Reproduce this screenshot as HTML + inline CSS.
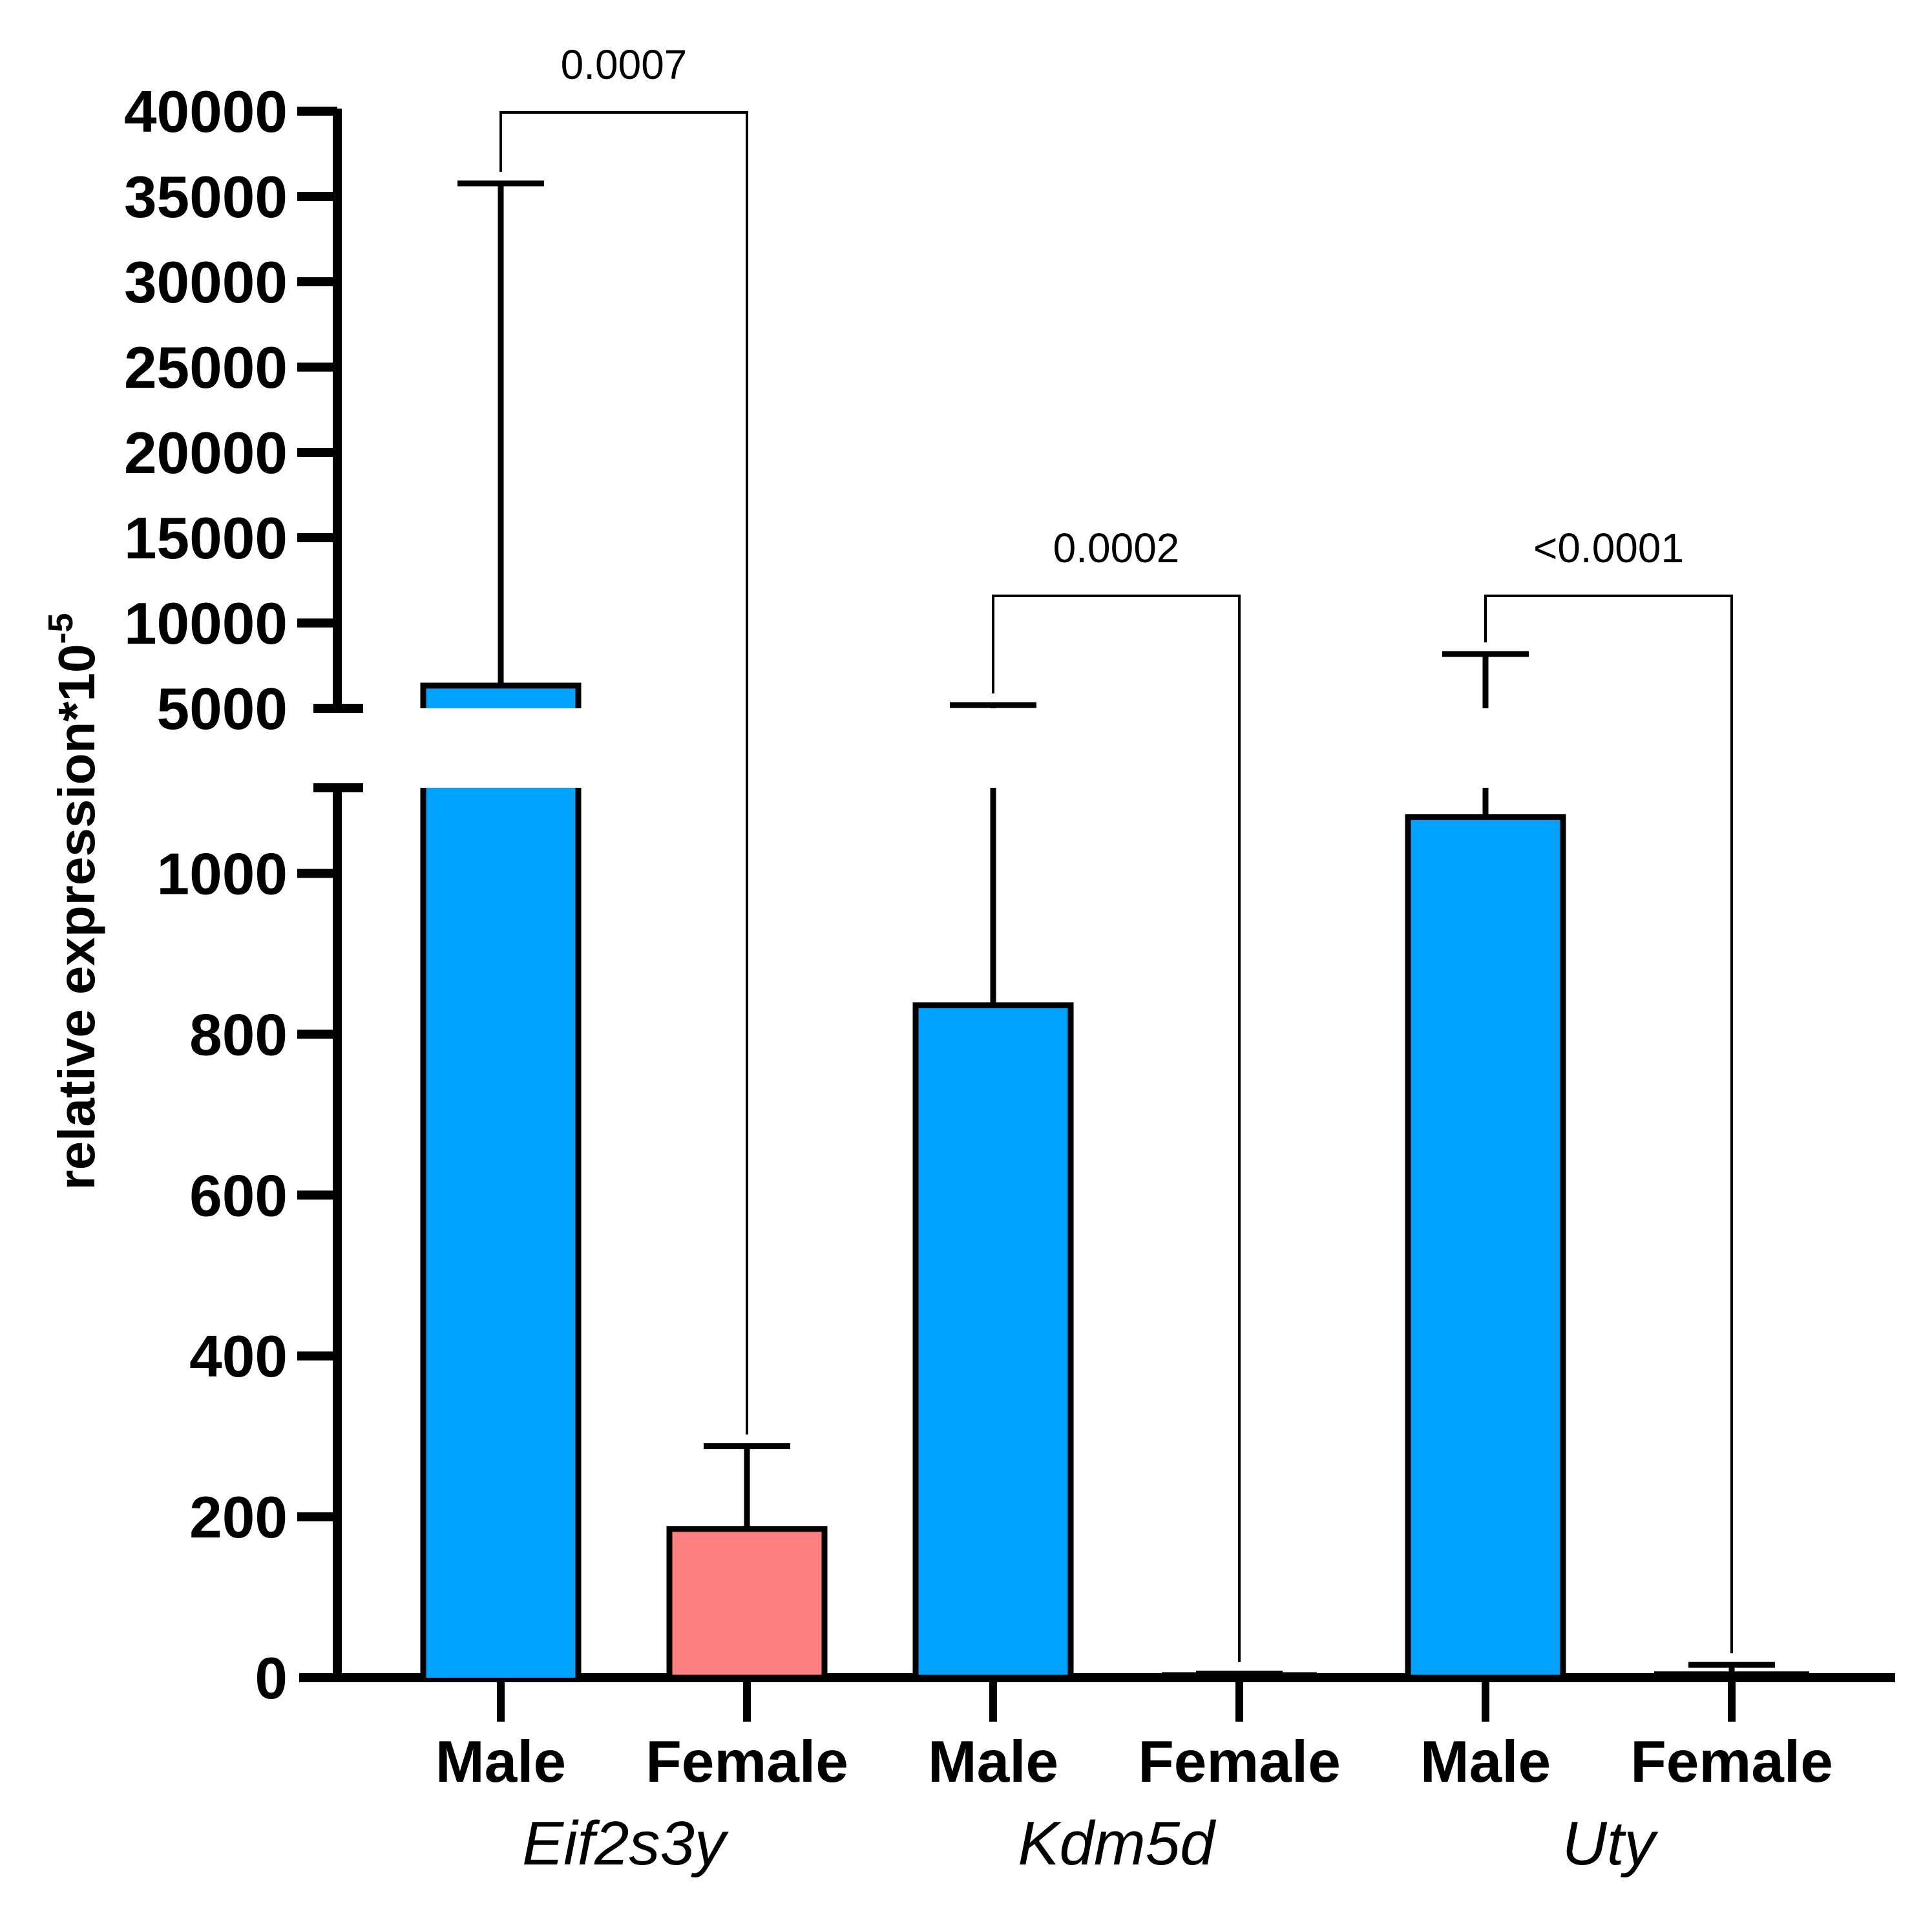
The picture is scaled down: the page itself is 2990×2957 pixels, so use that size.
<!DOCTYPE html>
<html><head><meta charset="utf-8"><style>
html,body{margin:0;padding:0;background:#fff;}
svg{display:block;}
text{font-family:"Liberation Sans",sans-serif;}
</style></head><body>
<svg id="chart" width="2990" height="2957" viewBox="0 0 2990 2957" xmlns="http://www.w3.org/2000/svg">
<g id="axes"></g>
<g id="bars"></g>
<g id="brackets"></g>
<text transform="translate(146,1395) rotate(-90)" text-anchor="middle" font-size="80" font-weight="bold">relative expression*10<tspan dy="-34" font-size="54">-5</tspan></text>
</svg>
<script>
const categories = ["Male","Female","Male","Female","Male","Female"];
const genes = ["Eif2s3y","Kdm5d","Uty"];
const means = [6330, 185, 836, 2, 1070, 3];
const errTops = [35760, 288, 5190, 5, 8180, 16];
const upperTicks = [5000,10000,15000,20000,25000,30000,35000,40000];
const lowerTicks = [0,200,400,600,800,1000];
const pLabels = ["0.0007","0.0002","<0.0001"];
const pairs = [[0,1],[2,3],[4,5]];

const NS="http://www.w3.org/2000/svg";
const BASE=2596, LPX=1.2445, LMAX=1106, LTOP=1219, UBOT=1096, UPX=0.0264;
const AX=522;
function yL(v){return BASE - v*LPX;}
function yU(v){return UBOT - (v-5000)*UPX;}
function xC(i){return 775 + i*381;}
function el(tag,attrs,parent){const e=document.createElementNS(NS,tag);for(const k in attrs)e.setAttribute(k,attrs[k]);parent.appendChild(e);return e;}
const axes=document.getElementById('axes'), bars=document.getElementById('bars'), br=document.getElementById('brackets');

let a1=el('line',{x1:AX,y1:yU(40000)-4,x2:AX,y2:UBOT,stroke:'#000','stroke-width':14},axes);


let a2=el('line',{x1:AX,y1:LTOP,x2:AX,y2:BASE,stroke:'#000','stroke-width':14},axes);


let bk=el('line',{x1:485,y1:LTOP,x2:562,y2:LTOP,stroke:'#000','stroke-width':14},axes);


upperTicks.forEach(v=>{
  const y=yU(v);
  const t=el('line',{x1:v===5000?485:460,y1:y,x2:v===5000?562:AX,y2:y,stroke:'#000','stroke-width':14},axes);
  
  
  const l=el('text',{x:445,y:y+32,'text-anchor':'end','font-size':91,'font-weight':'bold'},axes);
  l.textContent=v;
  
  
});
lowerTicks.forEach(v=>{
  const y=yL(v);
  if(v>0){const t=el('line',{x1:460,y1:y,x2:AX,y2:y,stroke:'#000','stroke-width':14},axes);
  
  }
  const l=el('text',{x:445,y:y+32,'text-anchor':'end','font-size':91,'font-weight':'bold'},axes);
  l.textContent=v;
  
  
});
let xa=el('line',{x1:463,y1:BASE,x2:2933,y2:BASE,stroke:'#000','stroke-width':14},axes);


categories.forEach((c,i)=>{
  const t=el('line',{x1:xC(i),y1:BASE,x2:xC(i),y2:2664,stroke:'#000','stroke-width':12},axes);
  
  
  const l=el('text',{x:xC(i),y:2757,'text-anchor':'middle','font-size':91,'font-weight':'bold'},axes);
  l.textContent=c;
  
  
});
genes.forEach((g,k)=>{
  const l=el('text',{x:(xC(2*k)+xC(2*k+1))/2,y:2885,'text-anchor':'middle','font-size':96,'font-style':'italic'},axes);
  l.textContent=g;
  
  
});

const HW=120;
means.forEach((v,i)=>{
  const x=xC(i), fill=(i===1)?'#FF8080':'#00A2FF';
  if(v<10){
    const b=el('line',{x1:x-HW,y1:yL(v)-4,x2:x+HW,y2:yL(v)-4,stroke:'#000','stroke-width':4},bars);
    
    
  } else if(v<=LMAX){
    const b=el('rect',{x:x-HW,y:yL(v),width:2*HW,height:BASE-yL(v),fill:fill,stroke:'#000','stroke-width':9},bars);
    
    
  } else {
    const b1=el('rect',{x:x-HW,y:LTOP,width:2*HW,height:BASE-LTOP,fill:fill},bars);
    
    
    el('path',{d:`M${x-HW},${LTOP}V${BASE}M${x+HW},${LTOP}V${BASE}`,stroke:'#000','stroke-width':9,fill:'none'},bars);
    const b2=el('rect',{x:x-HW,y:yU(v),width:2*HW,height:UBOT-yU(v),fill:fill},bars);
    
    
    el('path',{d:`M${x-HW},${UBOT}V${yU(v)}H${x+HW}V${UBOT}`,stroke:'#000','stroke-width':9,fill:'none'},bars);
  }
  const e=errTops[i];
  const top = e>LMAX? yU(e) : yL(e);
  const barTop = v>LMAX? yU(v) : yL(v);
  let d='';
  if(e>LMAX){
    if(v<=LMAX) d+=`M${x},${barTop}V${LTOP}`;
    d+=`M${x},${v>LMAX?barTop:UBOT}V${top}`;
  } else d+=`M${x},${barTop}V${top}`;
  const eb=el('path',{d:d+`M${x-67},${top}H${x+67}`,stroke:'#000','stroke-width':9,fill:'none'},bars);
  
  
});

const brTopY=[174,922,922];
pairs.forEach((p,k)=>{
  const xa=xC(p[0]), xb=xC(p[1]);
  const ya=(errTops[p[0]]>LMAX?yU(errTops[p[0]]):yL(errTops[p[0]]))-18;
  const yb=(errTops[p[1]]>LMAX?yU(errTops[p[1]]):yL(errTops[p[1]]))-18;
  const b=el('path',{d:`M${xa},${ya}V${brTopY[k]}H${xb}V${yb}`,stroke:'#000','stroke-width':4,fill:'none'},br);
  
  
  const t=el('text',{x:(xa+xb)/2,y:brTopY[k]-52,'text-anchor':'middle','font-size':64},br);
  t.textContent=pLabels[k];
  
  
});
</script>
</body></html>
